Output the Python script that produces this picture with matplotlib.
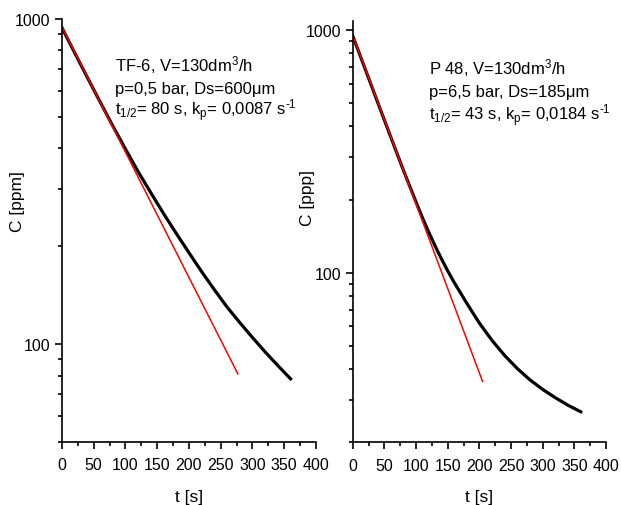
import matplotlib
matplotlib.use("Agg")
import matplotlib.pyplot as plt
from matplotlib.ticker import FixedLocator, NullFormatter, MultipleLocator

plt.rcParams['font.family'] = ['Liberation Sans', 'DejaVu Sans']
plt.rcParams['mathtext.fontset'] = 'custom'
plt.rcParams['mathtext.rm'] = 'Liberation Sans'
plt.rcParams['mathtext.it'] = 'Liberation Sans:italic'

# TF-6 sample (left panel)
t_tf6 = [0, 20, 40, 60, 80, 100, 120, 140, 160, 180, 200, 220, 240, 260, 280, 300, 320, 340, 360]
c_tf6 = [940, 787, 661, 556, 469, 398, 339, 292, 252, 219, 191, 167, 147, 130, 116.5, 104.8, 94.6, 85.9, 78.2]
fit_t_tf6 = [0, 277]
fit_c_tf6 = [945, 81]

# P 48 sample (right panel)
t_p48 = [0, 20, 40, 60, 80, 100, 110, 120, 130, 140, 150, 160, 180, 200, 220, 240, 260, 280, 300, 320, 340, 360]
c_p48 = [945, 686, 498, 362, 264, 195, 168.3, 146.6, 128.8, 114, 101.6, 91.2, 74.8, 61.9, 52.5, 45.5,
         40.2, 36.1, 33.0, 30.5, 28.4, 26.7]
fit_t_p48 = [0, 205]
fit_c_p48 = [950, 35.6]

text_tf6 = ["TF-6, V=130dm$^{3}$/h",
            "p=0,5 bar, Ds=600\u03bcm",
            "t$_{\\mathrm{1/2}}$= 80 s, k$_{\\mathrm{p}}$= 0,0087 s$^{\\text{-1}}$"]
text_p48 = ["P 48, V=130dm$^{3}$/h",
            "p=6,5 bar, Ds=185\u03bcm",
            "t$_{\\mathrm{1/2}}$= 43 s, k$_{\\mathrm{p}}$= 0,0184 s$^{\\text{-1}}$"]

fig = plt.figure(figsize=(6.21, 5.06), dpi=100)
ax1 = fig.add_axes([0.0998, 0.1245, 0.409, 0.836])
ax2 = fig.add_axes([0.568, 0.124, 0.408, 0.833])


def style(ax, ymin, ymax, minors, ylabel, ly):
    ax.set_yscale('log')
    ax.set_xlim(0, 400)
    ax.set_ylim(ymin, ymax)
    for s in ['top', 'right']:
        ax.spines[s].set_visible(False)
    for s in ['left', 'bottom']:
        ax.spines[s].set_linewidth(1.2)
    ax.xaxis.set_major_locator(MultipleLocator(50))
    ax.xaxis.set_minor_locator(MultipleLocator(25))
    ax.yaxis.set_major_locator(FixedLocator([100, 1000]))
    ax.yaxis.set_minor_locator(FixedLocator(minors))
    ax.yaxis.set_minor_formatter(NullFormatter())
    ax.set_yticklabels(['100', '1000'])
    ax.tick_params(which='major', length=5, width=1.2, labelsize=11.5, direction='out')
    ax.tick_params(axis='x', which='major', pad=6)
    ax.tick_params(which='minor', length=3, width=1.2, direction='out')
    ax.set_xlabel('t [s]', fontsize=12.5, labelpad=12)
    ax.set_ylabel(ylabel, fontsize=12.5)
    ax.yaxis.set_label_coords(-0.147, ly)


minors1 = [50, 60, 70, 80, 90, 200, 300, 400, 500, 600, 700, 800, 900]
minors2 = [20, 30, 40, 50, 60, 70, 80, 90, 200, 300, 400, 500, 600, 700, 800, 900]

style(ax1, 50, 1000, minors1, 'C [ppm]', 0.57)
style(ax2, 20, 1090, minors2, 'C [ppp]', 0.582)

ax1.plot(t_tf6, c_tf6, color='black', lw=2.3, solid_joinstyle='round')
ax1.plot(fit_t_tf6, fit_c_tf6, color='red', lw=1.1)
ax2.plot(t_p48, c_p48, color='black', lw=2.3, solid_joinstyle='round')
ax2.plot(fit_t_p48, fit_c_p48, color='red', lw=1.1)

ys1 = [0.879, 0.826, 0.773]
ys2 = [0.874, 0.821, 0.766]
for line, y in zip(text_tf6, ys1):
    ax1.text(0.209, y, line, transform=ax1.transAxes,
             fontsize=12, va='baseline', ha='left')
for line, y in zip(text_p48, ys2):
    ax2.text(0.301, y, line, transform=ax2.transAxes,
             fontsize=12, va='baseline', ha='left')

fig.savefig('out.png', dpi=100)
